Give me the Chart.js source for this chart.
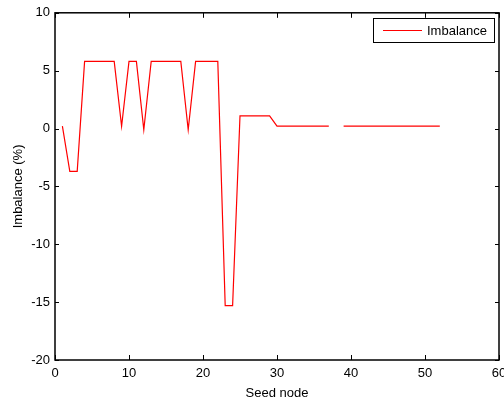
<!DOCTYPE html>
<html>
<head>
<meta charset="utf-8">
<script src="https://cdn.jsdelivr.net/npm/chart.js@4"></script>
<style>
  html, body { margin: 0; padding: 0; background: #fff; }
  #wrap { width: 504px; height: 401px; position: relative; }
</style>
</head>
<body>
<div id="wrap"><canvas id="imbChart"></canvas></div>
<script>
// seed node index and measured imbalance (%), null = no value
var seedNodes = [1, 2, 3, 4, 5, 6, 7, 8, 9, 10, 11, 12, 13, 14, 15, 16, 17, 18, 19, 20,
                 21, 22, 23, 24, 25, 26, 27, 28, 29, 30, 31, 32, 33, 34, 35, 36, 37, 38, 39, 40,
                 41, 42, 43, 44, 45, 46, 47, 48, 49, 50, 51, 52];
var imbalance = [0.2, -3.7, -3.7, 5.8, 5.8, 5.8, 5.8, 5.8, 0.2, 5.8, 5.8, -0.1, 5.8, 5.8, 5.8, 5.8, 5.8, -0.1, 5.8, 5.8,
                 5.8, 5.8, -15.3, -15.3, 1.1, 1.1, 1.1, 1.1, 1.1, 0.2, 0.2, 0.2, 0.2, 0.2, 0.2, 0.2, 0.2, null, 0.2, 0.2,
                 0.2, 0.2, 0.2, 0.2, 0.2, 0.2, 0.2, 0.2, 0.2, 0.2, 0.2, 0.2];
var xTicks = [0, 10, 20, 30, 40, 50, 60];
var yTicks = [-20, -15, -10, -5, 0, 5, 10];

var font = 'Liberation Sans, Arial, sans-serif';

// matlab-like box with inward ticks and a legend in the corner
var boxPlugin = {
    id: 'boxPlugin',
    afterDraw: function (chart) {
        var ctx = chart.ctx;
        var a = chart.chartArea;
        var xs = chart.scales.x, ys = chart.scales.y;
        ctx.save();
        ctx.strokeStyle = '#000';
        ctx.lineWidth = 1.5;
        ctx.strokeRect(a.left, a.top, a.right - a.left, a.bottom - a.top);
        ctx.lineWidth = 1;
        ctx.beginPath();
        xTicks.forEach(function (v) {
            var px = Math.round(xs.getPixelForValue(v)) + 0.5;
            ctx.moveTo(px, a.bottom); ctx.lineTo(px, a.bottom - 5);
            ctx.moveTo(px, a.top); ctx.lineTo(px, a.top + 5);
        });
        yTicks.forEach(function (v) {
            var py = Math.round(ys.getPixelForValue(v)) + 0.5;
            ctx.moveTo(a.left, py); ctx.lineTo(a.left + 4, py);
            ctx.moveTo(a.right, py); ctx.lineTo(a.right - 4, py);
        });
        ctx.stroke();

        // legend
        ctx.fillStyle = '#fff';
        ctx.fillRect(373.5, 18.5, 121, 24);
        ctx.strokeStyle = '#000';
        ctx.strokeRect(373.5, 18.5, 121, 24);
        ctx.strokeStyle = '#ff0000';
        ctx.beginPath();
        ctx.moveTo(383, 30.5); ctx.lineTo(422, 30.5);
        ctx.stroke();
        ctx.fillStyle = '#000';
        ctx.font = '13px ' + font;
        ctx.textBaseline = 'middle';
        ctx.fillText('Imbalance', 427, 31);
        ctx.restore();
    }
};

var points = seedNodes.map(function (n, i) { return { x: n, y: imbalance[i] }; });

new Chart(document.getElementById('imbChart').getContext('2d'), {
    type: 'line',
    data: {
        datasets: [{
            label: 'Imbalance',
            data: points,
            borderColor: '#ff0000',
            borderWidth: 1.2,
            pointRadius: 0,
            tension: 0,
            spanGaps: false,
            fill: false
        }]
    },
    options: {
        responsive: true,
        maintainAspectRatio: false,
        animation: false,
        layout: { padding: { top: 12, right: 5, left: 0, bottom: 0 } },
        plugins: {
            legend: { display: false },
            tooltip: { enabled: false }
        },
        scales: {
            x: {
                type: 'linear',
                min: 0, max: 60,
                grid: { display: false, drawTicks: false },
                border: { display: false },
                afterBuildTicks: function (s) { s.ticks = xTicks.map(function (v) { return { value: v }; }); },
                afterFit: function (s) { s.height = 41; s.paddingLeft = 0; s.paddingRight = 0; },
                ticks: { color: '#000', font: { family: font, size: 13 }, padding: 6, maxRotation: 0 },
                title: { display: true, text: 'Seed node', color: '#000', font: { family: font, size: 13 }, padding: { top: 2, bottom: 0 } }
            },
            y: {
                min: -20, max: 10,
                grid: { display: false, drawTicks: false },
                border: { display: false },
                afterBuildTicks: function (s) { s.ticks = yTicks.map(function (v) { return { value: v }; }); },
                afterFit: function (s) { s.width = 55; },
                ticks: { color: '#000', font: { family: font, size: 13 }, padding: 5 },
                title: { display: true, text: 'Imbalance (%)', color: '#000', font: { family: font, size: 13 }, padding: { top: 11, bottom: 0 } }
            }
        }
    },
    plugins: [boxPlugin]
});
</script>
</body>
</html>
